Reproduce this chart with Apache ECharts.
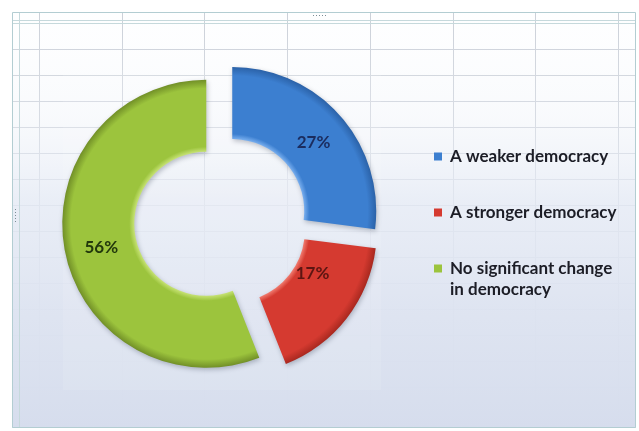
<!DOCTYPE html>
<html>
<head>
<meta charset="utf-8">
<script src="https://cdn.jsdelivr.net/npm/echarts@6/dist/echarts.min.js"></script>
<style>
  html, body { margin: 0; padding: 0; background: #ffffff; }
  #chart { width: 639px; height: 431px; }
</style>
</head>
<body>
<div id="chart"></div>
<script>
// Survey answers and their shares (percent)
const categories = ['A weaker democracy', 'A stronger democracy', 'No significant change\nin democracy'];
const shares = [27, 17, 56];

// Slice palette: base, light rim, dark rim, label text
const baseColors  = ['#3c7fd0', '#d53a30', '#9cc43d'];
const lightColors = ['#78aeee', '#f07a6e', '#c6e274'];
const darkColors  = ['#2b62a8', '#a8281f', '#718f27'];
const labelColors = ['#1b2c5e', '#5c1512', '#22380c'];

// Doughnut geometry
const CX = 221, CY = 221, R_IN = 72, R_OUT = 144, EXPLODE = 15;

const chart = echarts.init(document.getElementById('chart'), null, { renderer: 'canvas' });

// Bevel-like radial fill; the exploded slices are translated as a whole,
// so the gradient stays centred on the doughnut centre in slice space
const pieData = shares.map((v, i) => ({
  name: categories[i],
  value: v,
  selected: true,
  itemStyle: {
    color: {
      type: 'radial', x: CX, y: CY, r: R_OUT, global: true,
      colorStops: [
        { offset: 0.50, color: lightColors[i] },
        { offset: 0.535, color: baseColors[i] },
        { offset: 0.94, color: baseColors[i] },
        { offset: 1.00, color: darkColors[i] }
      ]
    }
  },
  label: { color: labelColors[i] }
}));

// Spreadsheet cells behind the translucent chart area
const gridGraphics = [];
for (let k = 0; k < 8; k++) {
  const x = Math.round(39 + 82.7 * k) + 0.5;
  gridGraphics.push({ type: 'line', shape: { x1: x, y1: 12, x2: x, y2: 428 },
    style: { stroke: '#bcc2cc', lineWidth: 1 }, silent: true });
}
for (let k = 0; k < 15; k++) {
  const y = 49 + 26 * k + 0.5;
  gridGraphics.push({ type: 'line', shape: { x1: 12, y1: y, x2: 636, y2: y },
    style: { stroke: '#bcc2cc', lineWidth: 1 }, silent: true });
}

const legendBase = {
  orient: 'vertical',
  left: 434,
  padding: 0,
  icon: 'rect',
  itemWidth: 8,
  itemHeight: 8,
  selectedMode: false,
  textStyle: {
    fontFamily: 'Lato', fontWeight: 'bold', fontSize: 17, lineHeight: 21,
    color: '#1c1d26', padding: [0, 0, 0, 3]
  }
};

const option = {
  backgroundColor: '#ffffff',
  animation: false,
  graphic: [
    ...gridGraphics,
    // chart area wash: clear at the top, pale blue-grey towards the bottom
    { type: 'rect', shape: { x: 12, y: 12, width: 624, height: 416 }, silent: true,
      style: { fill: { type: 'linear', x: 0, y: 0, x2: 0, y2: 1, colorStops: [
        { offset: 0, color: 'rgba(252,253,255,0.25)' },
        { offset: 0.25, color: 'rgba(242,245,250,0.50)' },
        { offset: 0.45, color: 'rgba(230,235,245,0.85)' },
        { offset: 0.7, color: 'rgba(222,228,241,0.97)' },
        { offset: 1, color: 'rgba(214,221,237,1)' } ] } } },
    // plot area
    { type: 'rect', shape: { x: 63, y: 70, width: 318, height: 320 }, silent: true,
      style: { fill: 'rgba(255,255,255,0.10)' } },
    // chart frame
    { type: 'rect', shape: { x: 12.5, y: 12.5, width: 623, height: 415 }, silent: true,
      style: { fill: 'none', stroke: '#b3cdd2', lineWidth: 1 } },
    { type: 'line', shape: { x1: 13, y1: 20.5, x2: 635, y2: 20.5 }, silent: true,
      style: { stroke: '#c6d9dc', lineWidth: 1 } },
    { type: 'line', shape: { x1: 13, y1: 23.5, x2: 635, y2: 23.5 }, silent: true,
      style: { stroke: '#c6d9dc', lineWidth: 1 } },
    { type: 'line', shape: { x1: 19.5, y1: 13, x2: 19.5, y2: 427 }, silent: true,
      style: { stroke: '#c6d9dc', lineWidth: 1 } },
    // resize grips
    { type: 'line', shape: { x1: 313, y1: 15.5, x2: 326, y2: 15.5 }, silent: true,
      style: { stroke: '#7d8d96', lineWidth: 1, lineDash: [1, 2] } },
    { type: 'line', shape: { x1: 15.5, y1: 209, x2: 15.5, y2: 222 }, silent: true,
      style: { stroke: '#7d8d96', lineWidth: 1, lineDash: [1, 2] } }
  ],
  legend: [
    Object.assign({}, legendBase, { top: 146, data: [{ name: categories[0], itemStyle: { color: baseColors[0] } }] }),
    Object.assign({}, legendBase, { top: 202, data: [{ name: categories[1], itemStyle: { color: baseColors[1] } }] }),
    // a blank leading line keeps the swatch level with the first line of the wrapped name
    Object.assign({}, legendBase, { top: 237, formatter: '\n{name}',
      data: [{ name: categories[2], itemStyle: { color: baseColors[2] } }] })
  ],
  series: [{
    type: 'pie',
    center: [CX, CY],
    radius: [R_IN, R_OUT],
    startAngle: 90,
    clockwise: true,
    selectedMode: 'multiple',
    selectedOffset: EXPLODE,
    avoidLabelOverlap: false,
    emphasis: { disabled: true },
    itemStyle: {
      borderWidth: 0,
      shadowBlur: 5,
      shadowOffsetX: 1,
      shadowOffsetY: 2,
      shadowColor: 'rgba(40,50,70,0.30)'
    },
    label: {
      show: true,
      position: 'inside',
      formatter: '{c}%',
      fontFamily: 'Lato',
      fontWeight: 'bold',
      fontSize: 17
    },
    labelLine: { show: false },
    labelLayout: function (params) {
      if (params.dataIndex === 0) return { dx: -2, dy: 5 };
      // the narrow lower slice carries its label nearer the top edge
      if (params.dataIndex === 1) return { dx: -8, dy: -25 };
      return { dx: 4, dy: 3 };
    },
    data: pieData
  }]
};

chart.setOption(option);
</script>
</body>
</html>
